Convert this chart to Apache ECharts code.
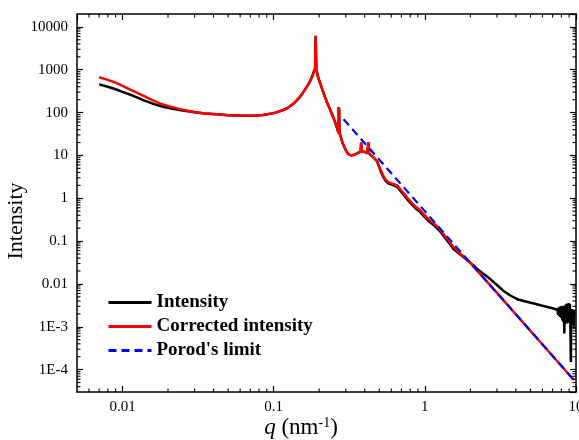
<!DOCTYPE html>
<html>
<head>
<meta charset="utf-8">
<script src="https://cdn.jsdelivr.net/npm/echarts@6/dist/echarts.min.js"></script>
<style>html,body{margin:0;padding:0;background:#fff}#c{width:579px;height:440px}</style>
</head>
<body>
<div id="c"></div>
<script>
// ---- data ----
const intensityQ = [0.007,0.008,0.009,0.01,0.012,0.014,0.016,0.018,0.021,0.025,0.03,
  0.035,0.042,0.05,0.063,0.075,0.085,0.1,0.112,0.123,0.135,0.15,0.16,0.17,0.178,0.184,0.188,0.1895,0.1905,0.1915,0.195,0.2,0.207,0.215,0.225,0.237,0.25,0.262,0.2685,0.2695,0.271,0.2725,0.277,0.285,0.295,0.306,0.318,0.33,0.345,0.36,0.376,0.379,0.382,0.384,0.4,0.415,0.4235,0.4255,0.428,0.44,0.46,0.484,
  0.51,0.53,0.55,0.575,0.61,0.656,0.69,0.726,0.77,0.826,0.87,0.92,0.97,1.04,1.1,1.15,1.27,1.4,1.55,1.75,2.0,2.1,2.2,2.4,2.59,2.9,3.33,3.7,4.09,4.5,5.27,6.0,6.47,7.0,7.54,
  7.62,7.69,7.74,7.81,7.87,7.94,8.0,8.06,8.12,8.18,8.24,8.31,8.37,8.44,8.5,8.57,8.63,8.7,8.77,8.84,8.9,8.97,9.04,9.11,9.18,9.25,9.3,9.39,9.45,9.54,9.6,9.69,9.75];
const intensityI = [455,400,350,305,240,190,160,140,124,112,102,
  95,91,87,84,85,88,97,110,126,160,237,330,460,640,880,1050,6200,5800,1000,760,560,400,270,175,115,72,45,33,134,120,34,28,20,15,11.5,10.3,10,10.5,11.4,12.3,20,19,12.5,12,11.2,20,21,11,10,8.8,7.2,
  4.3,3.2,2.55,2.2,2.05,1.85,1.48,1.2,0.92,0.7,0.58,0.5,0.41,0.31,0.265,0.235,0.165,0.105,0.065,0.046,0.031,0.027,0.023,0.018,0.0148,0.0105,0.0068,0.0053,0.0044,0.0040,0.0035,0.0031,0.0029,0.0027,0.0025,
  0.0019,0.0028,0.0018,0.0029,0.0017,0.0030,0.0016,0.0030,0.0014,0.0031,0.0013,0.0031,0.0007,0.0030,0.0012,0.0033,0.0013,0.0035,0.0012,0.0034,0.0013,0.0036,0.0014,0.0034,0.0010,0.00015,0.0020,0.0012,0.0026,0.0011,0.0024,0.0010,0.0025];

const correctedQ = [0.007,0.008,0.009,0.01,0.012,0.014,0.016,0.018,0.021,0.025,0.03,
  0.035,0.042,0.05,0.063,0.075,0.085,0.1,0.112,0.123,0.135,0.15,0.16,0.17,0.178,0.184,0.188,0.1895,0.1905,0.1915,0.195,0.2,0.207,0.215,0.225,0.237,0.25,0.262,0.2685,0.2695,0.271,0.2725,0.277,0.285,0.295,0.306,0.318,0.33,0.345,0.36,0.376,0.379,0.382,0.384,0.4,0.415,0.4235,0.4255,0.428,0.44,0.46,0.484,
  0.51,0.53,0.55,0.575,0.61,0.656,0.69,0.726,0.77,0.826,0.87,0.92,0.97,1.04,1.1,1.15,1.27,1.4,1.55,1.75,2.0,2.5,3,4,6,9.7];
const correctedI = [670,580,500,420,310,240,190,160,135,117,103,
  95,91,87,84,85,88,97,110,126,160,237,330,460,640,880,1050,6200,5800,1000,760,560,400,270,175,115,72,45,33,134,120,34,28,20,15,11.5,10.3,10,10.5,11.4,12.3,20,19,12.5,12,11.2,20,21,11,10,8.8,7.2,
  4.6,3.4,2.7,2.35,2.2,2.0,1.6,1.3,1.0,0.76,0.63,0.55,0.45,0.34,0.29,0.26,0.18,0.115,0.072,0.048,0.031,0.0128,0.00617,0.00195,0.000386,0.0000565];

const porodQ = [0.29, 1, 9.7];
const porodI = [70, 0.5, 0.0000565];

const seriesNames = ['Intensity', 'Corrected intensity', "Porod's limit"];
const xTickLabels = {'-2':'0.01','-1':'0.1','0':'1','1':'10'};
const yTickLabels = {'-4':'1E-4','-3':'1E-3','-2':'0.01','-1':'0.1','0':'1','1':'10','2':'100','3':'1000','4':'10000'};
const xMinorMult = [2,3,4,5,6,7,8,9];
const xMinorDecades = [0.001,0.01,0.1,1];
const yMinorDecades = [0.00001,0.0001,0.001,0.01,0.1,1,10,100,1000];

const X_MIN = 0.005, X_MAX = 10, Y_MIN = 3e-5, Y_MAX = 2e4;

const xMinor = [], yMinor = [];
xMinorDecades.forEach(d => xMinorMult.forEach(m => { const v = +(d*m).toPrecision(3); if (v > X_MIN && v < X_MAX) xMinor.push([v, Y_MIN]); }));
yMinorDecades.forEach(d => xMinorMult.forEach(m => { const v = +(d*m).toPrecision(3); if (v > Y_MIN && v < Y_MAX) yMinor.push([X_MIN, v]); }));

const pairs = (a, b) => a.map((q, i) => [q, b[i]]);
const FONT = 'Liberation Serif';

function fmt(map) {
  return function (v) {
    const e = Math.round(Math.log10(v));
    if (Math.abs(Math.log10(v) - e) > 0.01) return '';
    return map[String(e)] || '';
  };
}

const chart = echarts.init(document.getElementById('c'), null, {renderer: 'canvas'});
const axisCommon = {
  type: 'log', logBase: 10,
  axisLine: {show: true, lineStyle: {color: '#000', width: 1.5}},
  axisTick: {show: true, inside: true, length: 6, lineStyle: {color: '#000', width: 1.2}},
  splitLine: {show: false},
  minorTick: {show: false}
};

chart.setOption({
  animation: false,
  backgroundColor: '#fff',
  grid: {left: 77, right: 3, top: 14, bottom: 48, containLabel: false, outerBoundsMode: 'none'},
  xAxis: [
    Object.assign({}, axisCommon, {min: X_MIN, max: X_MAX, position: 'bottom',
      axisLabel: {show: true, margin: 8, color: '#000', fontFamily: FONT, fontSize: 15, formatter: fmt(xTickLabels), showMinLabel: false}}),
    Object.assign({}, axisCommon, {min: X_MIN, max: X_MAX, position: 'top', axisLabel: {show: false}})
  ],
  yAxis: [
    Object.assign({}, axisCommon, {min: Y_MIN, max: Y_MAX, position: 'left',
      axisLabel: {show: true, margin: 9, color: '#000', fontFamily: FONT, fontSize: 15, formatter: fmt(yTickLabels), showMinLabel: false, showMaxLabel: false}}),
    Object.assign({}, axisCommon, {min: Y_MIN, max: Y_MAX, position: 'right', axisLabel: {show: false}})
  ],
  legend: {
    show: true, orient: 'vertical', left: 102, top: 288,
    itemWidth: 43, itemHeight: 14, itemGap: 5,
    data: seriesNames,
    itemStyle: {opacity: 0},
    lineStyle: {width: 3},
    textStyle: {fontFamily: FONT, fontSize: 19, fontWeight: 'bold', color: '#000'}
  },
  graphic: [
    {type: 'text', x: 16, y: 221, rotation: Math.PI / 2,
      style: {text: 'Intensity', font: '22px "Liberation Serif"', fill: '#000', textAlign: 'center', textVerticalAlign: 'middle'}},
    {type: 'text', x: 301, y: 428,
      style: {text: '{i|q} (nm{s|-1})', font: '23px "Liberation Serif"', fill: '#000', textAlign: 'center', textVerticalAlign: 'middle',
        rich: {i: {fontStyle: 'italic', fontSize: 23, fontFamily: FONT}, s: {fontSize: 14, fontFamily: FONT, verticalAlign: 'top'}}}}
  ],
  series: [
    {name: seriesNames[0], type: 'line', data: pairs(intensityQ, intensityI), symbol: 'none', showSymbol: false,
      lineStyle: {color: '#000', width: 2.5, join: 'bevel'}, itemStyle: {color: '#000'}, z: 2},
    {name: seriesNames[1], type: 'line', data: pairs(correctedQ, correctedI), symbol: 'none', showSymbol: false,
      lineStyle: {color: '#ff0000', width: 2.5, join: 'bevel'}, itemStyle: {color: '#ff0000'}, z: 3},
    {name: seriesNames[2], type: 'line', data: pairs(porodQ, porodI), symbol: 'none', showSymbol: false,
      lineStyle: {color: '#0000ff', width: 2.2, type: [8, 5]}, itemStyle: {color: '#0000ff'}, z: 4},
    {type: 'custom', silent: true, data: xMinor, clip: false, z: 5,
      renderItem: function (params, api) {
        const b = api.coord([api.value(0), Y_MIN]);
        const t = api.coord([api.value(0), Y_MAX]);
        const st = {stroke: '#000', lineWidth: 1.1};
        return {type: 'group', children: [
          {type: 'line', shape: {x1: b[0], y1: b[1], x2: b[0], y2: b[1] - 3.5}, style: st},
          {type: 'line', shape: {x1: t[0], y1: t[1], x2: t[0], y2: t[1] + 3.5}, style: st}
        ]};
      }},
    {type: 'custom', silent: true, data: yMinor, clip: false, z: 5,
      renderItem: function (params, api) {
        const l = api.coord([X_MIN, api.value(1)]);
        const r = api.coord([X_MAX, api.value(1)]);
        const st = {stroke: '#000', lineWidth: 1.1};
        return {type: 'group', children: [
          {type: 'line', shape: {x1: l[0], y1: l[1], x2: l[0] + 3.5, y2: l[1]}, style: st},
          {type: 'line', shape: {x1: r[0], y1: r[1], x2: r[0] - 3.5, y2: r[1]}, style: st}
        ]};
      }}
  ]
});
</script>
</body>
</html>
